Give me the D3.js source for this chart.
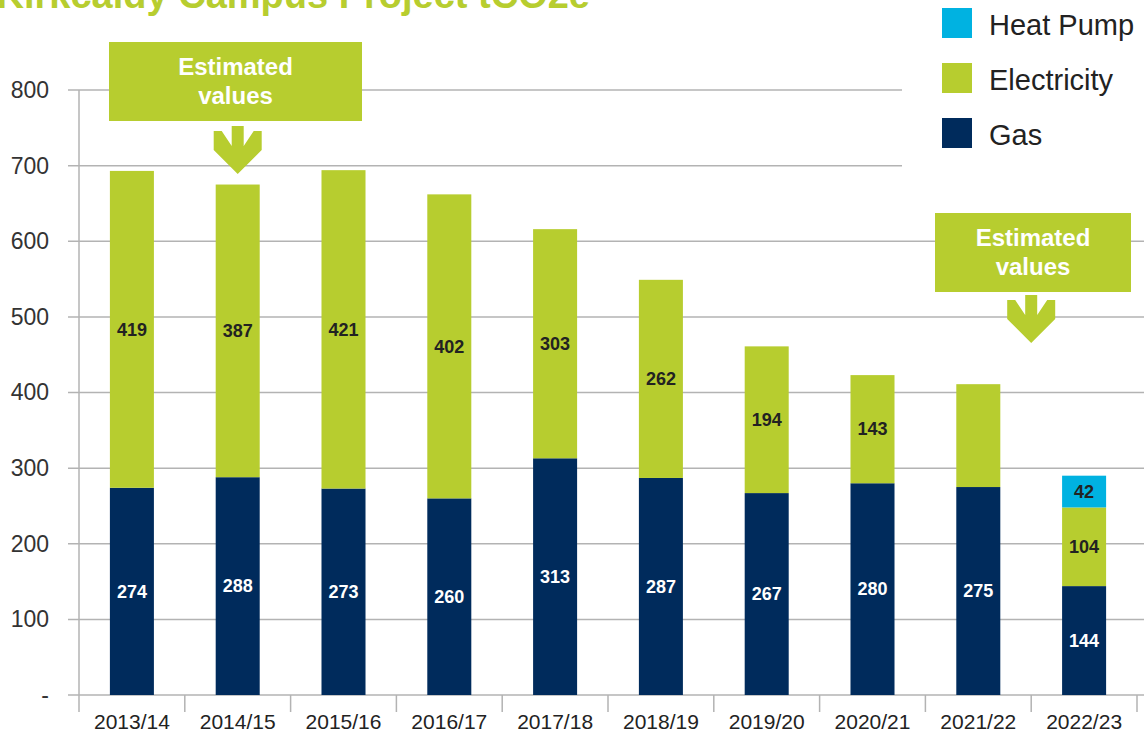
<!DOCTYPE html>
<html>
<head>
<meta charset="utf-8">
<script src="https://cdn.jsdelivr.net/npm/d3@7"></script>
<style>
  body { margin: 0; background: #fff; }
  text { font-family: "Liberation Sans", Arial, sans-serif; }
</style>
</head>
<body>
<script>
// chart data
var years = ["2013/14", "2014/15", "2015/16", "2016/17", "2017/18", "2018/19", "2019/20", "2020/21", "2021/22", "2022/23"];
var gas = [274, 288, 273, 260, 313, 287, 267, 280, 275, 144];
var electricity = [419, 387, 421, 402, 303, 262, 194, 143, 136, 104];
var heatPump = [0, 0, 0, 0, 0, 0, 0, 0, 0, 42];
var unlabelledElectricity = ["2021/22"];
var yTicks = [0, 100, 200, 300, 400, 500, 600, 700, 800];
var seriesNames = ["Heat Pump", "Electricity", "Gas"];
var estimatedYears = [["2014/15"], ["2021/22", "2022/23"]];

var W = 1144, H = 733;
var colors = {gas: "#002b5c", electricity: "#b7cd2f", heatPump: "#00b2e1"};
var legendColors = {"Heat Pump": colors.heatPump, "Electricity": colors.electricity, "Gas": colors.gas};

var svg = d3.select("body").append("svg")
    .attr("width", W)
    .attr("height", H);

var x = d3.scaleBand().domain(years).range([79, 1137]).paddingInner(0.584).paddingOuter(0.292);
var y = d3.scaleLinear().domain([0, 800]).range([695, 90]);

// title (cut off at the top)
svg.append("text")
    .attr("x", 590)
    .attr("y", 8)
    .attr("text-anchor", "end")
    .style("font-size", "38px")
    .style("font-weight", "bold")
    .style("fill", colors.electricity)
    .text("Kirkcaldy Campus Project tCO2e");

// gridlines
svg.append("g").selectAll("line")
    .data(yTicks)
  .enter().append("line")
    .attr("x1", 68).attr("x2", W)
    .attr("y1", function(d) { return y(d); })
    .attr("y2", function(d) { return y(d); })
    .style("stroke", "#b3b3b3")
    .style("stroke-width", 1.5);

// y axis
var gY = svg.append("g")
    .attr("transform", "translate(79,0)")
    .call(d3.axisLeft(y).tickValues(yTicks).tickSize(0).tickPadding(30)
      .tickFormat(function(d) { return d === 0 ? "-" : d; }));
gY.select(".domain").remove();
gY.selectAll("text").style("font-size", "23px").style("fill", "#333")
    .attr("font-family", null);

svg.append("line")
    .attr("x1", 79).attr("x2", 79)
    .attr("y1", y(800)).attr("y2", 712)
    .style("stroke", "#b3b3b3").style("stroke-width", 1.5);

// category separators
svg.append("g").selectAll("line")
    .data(d3.range(1, years.length + 1))
  .enter().append("line")
    .attr("x1", function(i) { return 79 + i * x.step(); })
    .attr("x2", function(i) { return 79 + i * x.step(); })
    .attr("y1", 695).attr("y2", 712)
    .style("stroke", "#b3b3b3").style("stroke-width", 1.5);

// x axis labels
var gX = svg.append("g")
    .attr("transform", "translate(0,695)")
    .call(d3.axisBottom(x).tickSize(0).tickPadding(19));
gX.select(".domain").remove();
gX.selectAll("text").style("font-size", "21px").style("fill", "#222")
    .attr("font-family", null);

// stacked bars
var table = years.map(function(yr, i) {
  return {year: yr, gas: gas[i], electricity: electricity[i], heatPump: heatPump[i]};
});
var stack = d3.stack().keys(["gas", "electricity", "heatPump"]);
var layers = stack(table);

var layer = svg.append("g").selectAll("g")
    .data(layers)
  .enter().append("g")
    .style("fill", function(d) { return colors[d.key]; });

layer.selectAll("rect")
    .data(function(d) { return d; })
  .enter().append("rect")
    .attr("x", function(d) { return x(d.data.year); })
    .attr("y", function(d) { return y(d[1]); })
    .attr("width", x.bandwidth())
    .attr("height", function(d) { return y(d[0]) - y(d[1]); });

// value labels
layer.each(function(L) {
  d3.select(this).selectAll("text")
      .data(L.filter(function(d) {
        if (d[1] - d[0] <= 0) return false;
        if (L.key === "electricity" && unlabelledElectricity.indexOf(d.data.year) >= 0) return false;
        return true;
      }))
    .enter().append("text")
      .attr("x", function(d) { return x(d.data.year) + x.bandwidth() / 2; })
      .attr("y", function(d) { return (y(d[0]) + y(d[1])) / 2; })
      .attr("dy", "0.35em")
      .attr("text-anchor", "middle")
      .style("font-size", "18px")
      .style("font-weight", "bold")
      .style("fill", L.key === "gas" ? "#fff" : "#222")
      .text(function(d) { return d[1] - d[0]; });
});

// "Estimated values" callouts
function arrow(cx, top) {
  var pts = [[-6, 0], [6, 0], [6, 20], [16, 5], [24, 5], [24, 24], [0, 48],
             [-24, 24], [-24, 5], [-16, 5], [-6, 20]];
  svg.append("polygon")
      .attr("points", pts.map(function(p) { return (cx + p[0]) + "," + (top + p[1]); }).join(" "))
      .style("fill", colors.electricity);
}
function callout(cx, boxX, boxW, boxTop, arrowTop) {
  svg.append("rect")
      .attr("x", boxX).attr("y", boxTop)
      .attr("width", boxW).attr("height", 79)
      .style("fill", colors.electricity);
  var t = svg.append("text")
      .attr("x", boxX + boxW / 2)
      .attr("text-anchor", "middle")
      .style("font-size", "24px")
      .style("font-weight", "bold")
      .style("fill", "#fff");
  t.append("tspan").attr("x", boxX + boxW / 2).attr("y", boxTop + 33).text("Estimated");
  t.append("tspan").attr("x", boxX + boxW / 2).attr("y", boxTop + 62).text("values");
  arrow(cx, arrowTop);
}
function centerOf(list) {
  return d3.mean(list, function(yr) { return x(yr) + x.bandwidth() / 2; });
}
callout(centerOf(estimatedYears[0]), 109, 253, 42, 126);
callout(centerOf(estimatedYears[1]), 935, 196, 213, 295);

// legend
var legend = svg.append("g");
legend.append("rect")
    .attr("x", 902).attr("y", 0).attr("width", W - 902).attr("height", 172)
    .style("fill", "#fff");
var item = legend.selectAll("g")
    .data(seriesNames)
  .enter().append("g")
    .attr("transform", function(d, i) { return "translate(942," + (8 + i * 55) + ")"; });
item.append("rect")
    .attr("width", 30).attr("height", 30)
    .style("fill", function(d) { return legendColors[d]; });
item.append("text")
    .attr("x", 47).attr("y", 27)
    .style("font-size", "29px")
    .style("fill", "#222")
    .text(function(d) { return d; });
</script>
</body>
</html>
